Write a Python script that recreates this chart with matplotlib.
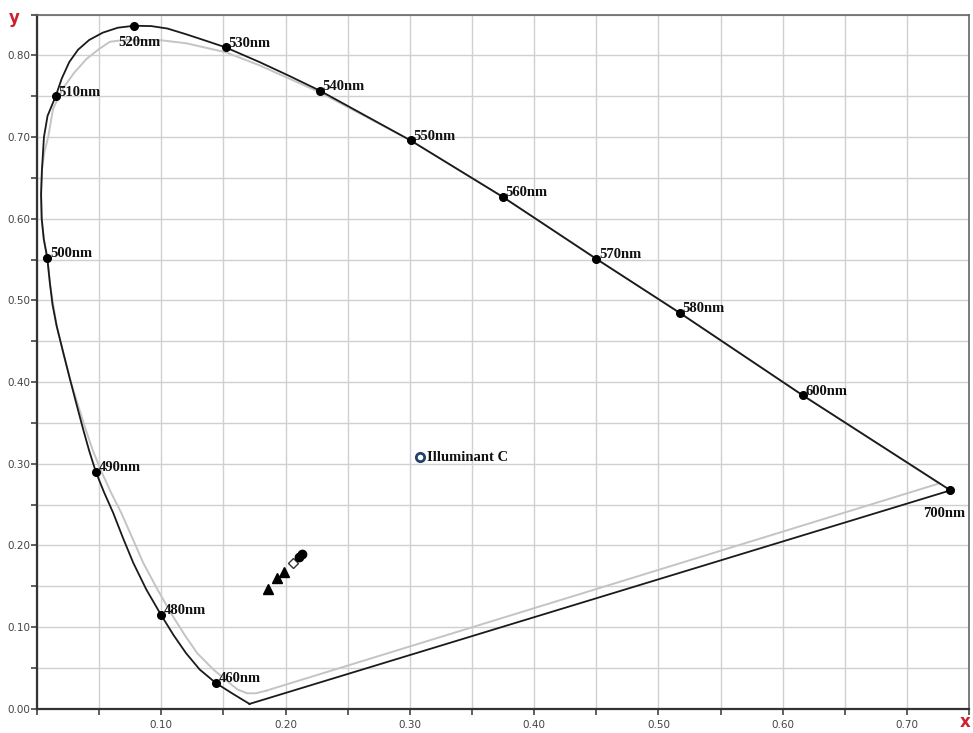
import numpy as np
import matplotlib
matplotlib.use("Agg")
import matplotlib.pyplot as plt

# spectral locus (black), traced from tip -> blue -> green -> red -> back to tip
LOCUS_X = [0.171, 0.158, 0.144, 0.131, 0.120, 0.110, 0.0997, 0.088, 0.0774, 0.069,
           0.0613, 0.054, 0.0474, 0.042, 0.0372, 0.0318, 0.0265, 0.021, 0.0158, 0.0125,
           0.0105, 0.0083, 0.0055, 0.0038, 0.0033, 0.0040, 0.0056, 0.0085, 0.015, 0.020,
           0.026, 0.033, 0.042, 0.053, 0.065, 0.078, 0.092, 0.105, 0.120, 0.136,
           0.1517, 0.179, 0.203, 0.2275, 0.3006, 0.3746, 0.450, 0.517, 0.616, 0.735,
           0.171]
LOCUS_Y = [0.006, 0.018, 0.0315, 0.048, 0.068, 0.090, 0.1153, 0.146, 0.179, 0.210,
           0.240, 0.265, 0.290, 0.316, 0.342, 0.373, 0.404, 0.437, 0.469, 0.495,
           0.520, 0.552, 0.575, 0.600, 0.630, 0.660, 0.700, 0.726, 0.750, 0.772,
           0.792, 0.807, 0.819, 0.828, 0.834, 0.8364, 0.836, 0.833, 0.826, 0.818,
           0.810, 0.792, 0.775, 0.757, 0.696, 0.627, 0.551, 0.485, 0.384, 0.2675,
           0.006]

# inner gray gamut outline
GAMUT_X = [0.184, 0.176, 0.169, 0.161, 0.153, 0.142, 0.129, 0.119, 0.1087, 0.097,
           0.0854, 0.0765, 0.0678, 0.0595, 0.052, 0.045, 0.0392, 0.0328, 0.0265,
           0.021, 0.0158, 0.0105, 0.0083, 0.0055, 0.0038, 0.0033, 0.0040, 0.0060,
           0.009, 0.013, 0.021, 0.030, 0.040, 0.050, 0.0587, 0.070, 0.0989, 0.120,
           0.1517, 0.179, 0.2275, 0.3006, 0.3746, 0.450, 0.517, 0.616, 0.726, 0.184]
GAMUT_Y = [0.022, 0.019, 0.019, 0.024, 0.034, 0.048, 0.068, 0.090, 0.115, 0.146,
           0.179, 0.210, 0.240, 0.265, 0.290, 0.316, 0.342, 0.373, 0.404,
           0.437, 0.469, 0.520, 0.552, 0.575, 0.600, 0.630, 0.660, 0.682,
           0.700, 0.735, 0.760, 0.779, 0.796, 0.808, 0.8168, 0.819, 0.8188, 0.815,
           0.804, 0.788, 0.755, 0.696, 0.627, 0.551, 0.485, 0.384, 0.276, 0.022]

# labelled wavelengths
WL_LABELS = ["460nm", "480nm", "490nm", "500nm", "510nm", "520nm", "530nm", "540nm",
             "550nm", "560nm", "570nm", "580nm", "600nm", "700nm"]
WL_X = [0.144, 0.0997, 0.0474, 0.0083, 0.015, 0.078, 0.1517, 0.2275, 0.3006, 0.3746,
        0.450, 0.517, 0.616, 0.735]
WL_Y = [0.0315, 0.1153, 0.290, 0.552, 0.750, 0.8364, 0.810, 0.757, 0.696, 0.627,
        0.551, 0.485, 0.384, 0.2675]

# measured samples
TRI_X = [0.186, 0.193, 0.199]
TRI_Y = [0.147, 0.160, 0.168]
OPEN_X = [0.206]
OPEN_Y = [0.178]
DOT_X = [0.211, 0.2136]
DOT_Y = [0.186, 0.189]

ILLUM_C = (0.308, 0.308)

X_TICKS = np.arange(0, 0.7501, 0.05)
Y_TICKS = np.arange(0, 0.8501, 0.05)
X_TICKLABELS = ["", "", "0.10", "", "0.20", "", "0.30", "", "0.40", "", "0.50", "",
                "0.60", "", "0.70", ""]
Y_TICKLABELS = ["0.00", "", "0.10", "", "0.20", "", "0.30", "", "0.40", "", "0.50", "",
                "0.60", "", "0.70", "", "0.80", ""]

fig = plt.figure(figsize=(9.73, 7.33), dpi=100)
ax = fig.add_axes([0.038, 0.033, 0.958, 0.947])

ax.plot(GAMUT_X, GAMUT_Y, color="#c4c4c4", lw=1.4, zorder=2, solid_joinstyle="round")
ax.plot(LOCUS_X, LOCUS_Y, color="#1a1a1a", lw=1.3, zorder=3, solid_joinstyle="round")
ax.plot(WL_X, WL_Y, "o", color="black", ms=5.5, zorder=4)

serif = ["Liberation Serif", "DejaVu Serif"]
offsets = {"520nm": (-11, -12), "700nm": (-20, -17)}
for lab, x, y in zip(WL_LABELS, WL_X, WL_Y):
    dx, dy = offsets.get(lab, (2, 3))
    ax.annotate(lab, (x, y), xytext=(dx, dy), textcoords="offset points",
                ha="left", va="center", fontsize=10.5, fontweight="bold",
                family=serif, color="#111111", zorder=5)

ax.plot(TRI_X, TRI_Y, "^", color="black", ms=6.5, zorder=4)
ax.plot(OPEN_X, OPEN_Y, "D", mfc="white", mec="#333333", ms=5, mew=1, zorder=4)
ax.plot(DOT_X, DOT_Y, "o", color="black", ms=6, zorder=5)

ax.plot([ILLUM_C[0]], [ILLUM_C[1]], "o", mfc="white", mec="#24416b", mew=2, ms=6, zorder=5)
ax.annotate("Illuminant C", ILLUM_C, xytext=(5, 0), textcoords="offset points",
            ha="left", va="center", fontsize=10.5, fontweight="bold", family=serif,
            color="#111111")

ax.set_xlim(0, 0.75)
ax.set_ylim(0, 0.85)
ax.set_xticks(X_TICKS)
ax.set_xticklabels(X_TICKLABELS)
ax.set_yticks(Y_TICKS)
ax.set_yticklabels(Y_TICKLABELS)
ax.grid(True, color="#d0d0d0", lw=1.0, zorder=0)
ax.set_axisbelow(True)
ax.tick_params(axis="both", direction="out", length=4, width=1.2, color="#444444",
               labelsize=7.5, labelcolor="#444444")
ax.tick_params(axis="x", pad=4)
ax.tick_params(axis="y", pad=1)
for side in ["left", "bottom"]:
    ax.spines[side].set_color("#333333")
    ax.spines[side].set_linewidth(1.6)
for side in ["top", "right"]:
    ax.spines[side].set_color("#666666")
    ax.spines[side].set_linewidth(1.2)

fig.text(0.015, 0.988, "y", color="#cc1f2f", fontsize=12, fontweight="bold",
         ha="center", va="top")
fig.text(0.992, 0.003, "x", color="#cc1f2f", fontsize=12, fontweight="bold",
         ha="center", va="bottom")

fig.savefig("out.png", dpi=100)
